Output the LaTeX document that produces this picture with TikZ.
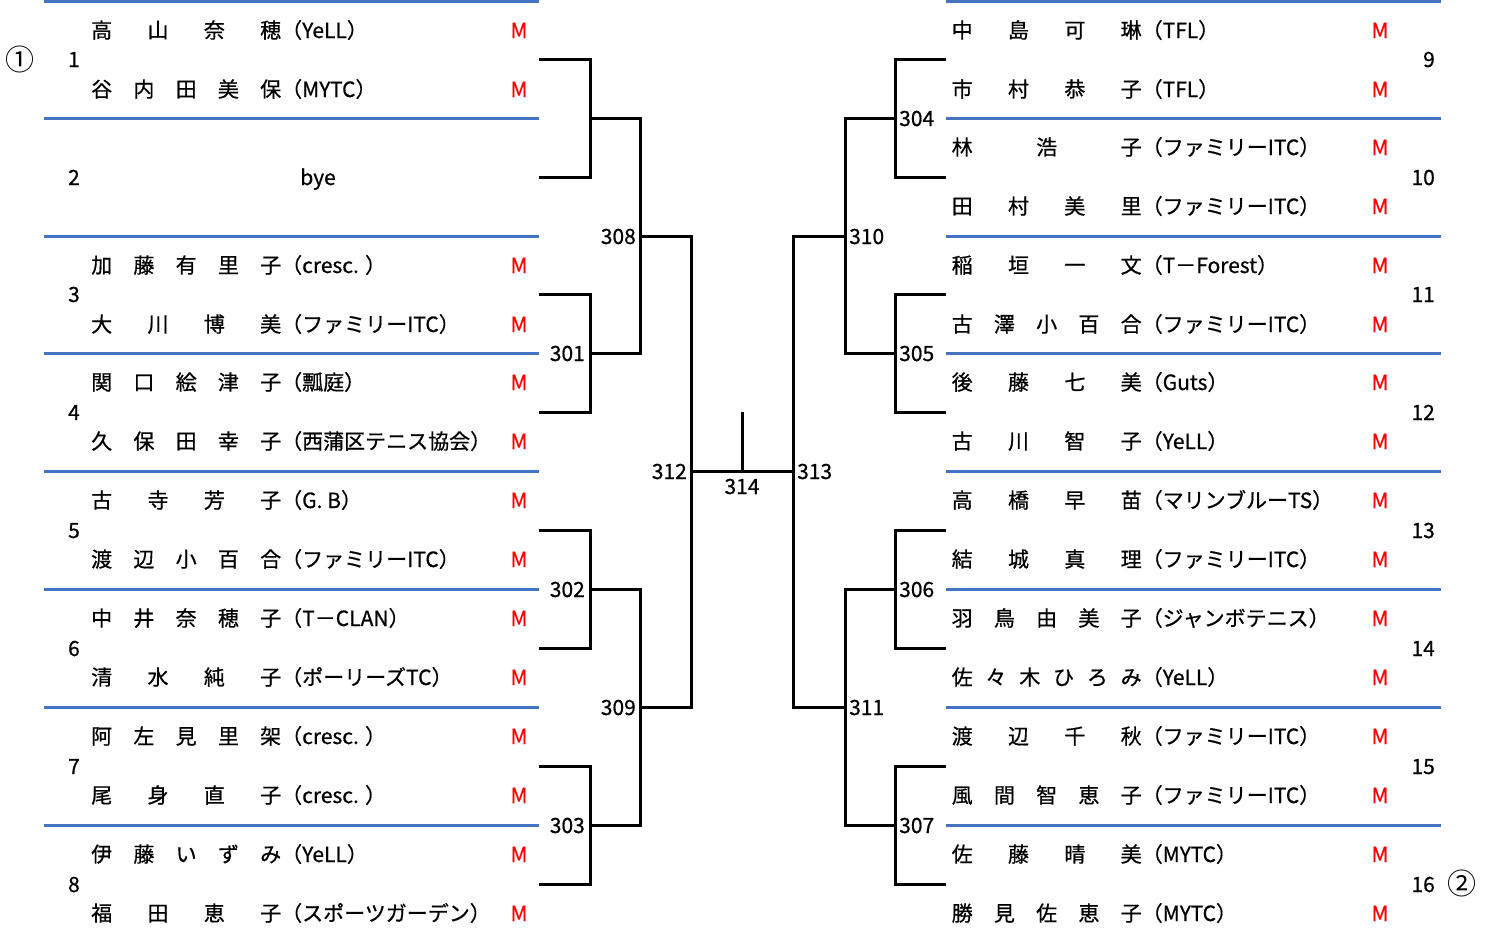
\documentclass[tikz,border=0pt]{standalone}
\usepackage{fontspec}
\setmainfont{Noto Sans CJK JP}[BoldFont={Noto Sans CJK JP}, BoldFeatures={FakeBold=0.7}]
\definecolor{lineblue}{RGB}{68,114,196}
\tikzset{
  txt/.style={inner sep=0pt, anchor=base west, font=\fontsize{21}{25}\selectfont\bfseries},
  mk/.style={inner sep=0pt, anchor=base, text=red, font=\fontsize{21}{25}\selectfont\bfseries},
  numr/.style={inner sep=0pt, anchor=base east, font=\fontsize{21}{25}\selectfont\bfseries},
  numl/.style={inner sep=0pt, anchor=base west, font=\fontsize{21}{25}\selectfont\bfseries},
  numc/.style={inner sep=0pt, anchor=base, font=\fontsize{21}{25}\selectfont\bfseries},
  seed/.style={inner sep=0pt, anchor=center, font=\fontsize{29}{32}\selectfont},
  sepline/.style={draw=lineblue, line width=3pt},
  br/.style={draw=black, line width=3pt},
}
\newcommand\plr[6]{%
  \node[txt] (#1) at (#2,#3) {\hbox to 190pt{#4}#5};
  \node[mk] (#1m) at (#6,#3) {M};
}
\begin{document}
\begin{tikzpicture}[x=1pt,y=-1pt]
\useasboundingbox (0,0) rectangle (1490,940);
% separators
\foreach \yy in {1,118,236,353,471,589,707,825}{
  \draw[sepline] (44,\yy) -- (539,\yy);
  \draw[sepline] (946,\yy) -- (1441,\yy);
}
% left players
\plr{p1a}{91}{38}{高\hfill 山\hfill 奈\hfill 穂}{（YeLL）}{519}
\plr{p1b}{91}{97}{谷\hfill 内\hfill 田\hfill 美\hfill 保}{（MYTC）}{519}
\node[numc] (bye) at (318,185) {bye};
\plr{p3a}{91}{273}{加\hfill 藤\hfill 有\hfill 里\hfill 子}{（cresc. ）}{519}
\plr{p3b}{91}{332}{大\hfill 川\hfill 博\hfill 美}{（ファミリーITC）}{519}
\plr{p4a}{91}{390}{関\hfill 口\hfill 絵\hfill 津\hfill 子}{（瓢庭）}{519}
\plr{p4b}{91}{449}{久\hfill 保\hfill 田\hfill 幸\hfill 子}{（西蒲区テニス協会）}{519}
\plr{p5a}{91}{508}{古\hfill 寺\hfill 芳\hfill 子}{（G. B）}{519}
\plr{p5b}{91}{567}{渡\hfill 辺\hfill 小\hfill 百\hfill 合}{（ファミリーITC）}{519}
\plr{p6a}{91}{626}{中\hfill 井\hfill 奈\hfill 穂\hfill 子}{（T－CLAN）}{519}
\plr{p6b}{91}{685}{清\hfill 水\hfill 純\hfill 子}{（ポーリーズTC）}{519}
\plr{p7a}{91}{744}{阿\hfill 左\hfill 見\hfill 里\hfill 架}{（cresc. ）}{519}
\plr{p7b}{91}{803}{尾\hfill 身\hfill 直\hfill 子}{（cresc. ）}{519}
\plr{p8a}{91}{862}{伊\hfill 藤\hfill い\hfill ず\hfill み}{（YeLL）}{519}
\plr{p8b}{91}{921}{福\hfill 田\hfill 恵\hfill 子}{（スポーツガーデン）}{519}
% right players
\plr{p9a}{951.5}{38}{中\hfill 島\hfill 可\hfill 琳}{（TFL）}{1380}
\plr{p9b}{951.5}{97}{市\hfill 村\hfill 恭\hfill 子}{（TFL）}{1380}
\plr{p10a}{951.5}{155}{林\hfill 浩\hfill 子}{（ファミリーITC）}{1380}
\plr{p10b}{951.5}{214}{田\hfill 村\hfill 美\hfill 里}{（ファミリーITC）}{1380}
\plr{p11a}{951.5}{273}{稲\hfill 垣\hfill 一\hfill 文}{（T－Forest）}{1380}
\plr{p11b}{951.5}{332}{古\hfill 澤\hfill 小\hfill 百\hfill 合}{（ファミリーITC）}{1380}
\plr{p12a}{951.5}{390}{後\hfill 藤\hfill 七\hfill 美}{（Guts）}{1380}
\plr{p12b}{951.5}{449}{古\hfill 川\hfill 智\hfill 子}{（YeLL）}{1380}
\plr{p13a}{951.5}{508}{高\hfill 橋\hfill 早\hfill 苗}{（マリンブルーTS）}{1380}
\plr{p13b}{951.5}{567}{結\hfill 城\hfill 真\hfill 理}{（ファミリーITC）}{1380}
\plr{p14a}{951.5}{626}{羽\hfill 鳥\hfill 由\hfill 美\hfill 子}{（ジャンボテニス）}{1380}
\plr{p14b}{951.5}{685}{佐\hfill 々\hfill 木\hfill ひ\hfill ろ\hfill み}{（YeLL）}{1380}
\plr{p15a}{951.5}{744}{渡\hfill 辺\hfill 千\hfill 秋}{（ファミリーITC）}{1380}
\plr{p15b}{951.5}{803}{風\hfill 間\hfill 智\hfill 恵\hfill 子}{（ファミリーITC）}{1380}
\plr{p16a}{951.5}{862}{佐\hfill 藤\hfill 晴\hfill 美}{（MYTC）}{1380}
\plr{p16b}{951.5}{921}{勝\hfill 見\hfill 佐\hfill 恵\hfill 子}{（MYTC）}{1380}
% entry numbers
\node[numr] (n1) at (80,67) {1};
\node[numr] (n2) at (80,185) {2};
\node[numr] (n3) at (80,302) {3};
\node[numr] (n4) at (80,420) {4};
\node[numr] (n5) at (80,538) {5};
\node[numr] (n6) at (80,656) {6};
\node[numr] (n7) at (80,774) {7};
\node[numr] (n8) at (80,892) {8};
\node[numr] (n9) at (1435,67) {9};
\node[numr] (n10) at (1435,185) {10};
\node[numr] (n11) at (1435,302) {11};
\node[numr] (n12) at (1435,420) {12};
\node[numr] (n13) at (1435,538) {13};
\node[numr] (n14) at (1435,656) {14};
\node[numr] (n15) at (1435,774) {15};
\node[numr] (n16) at (1435,892) {16};
\node[seed] (seed1) at (20,59) {①};
\node[seed] (seed2) at (1462,883) {②};
% bracket coordinates
\coordinate (L1) at (539,59);  \coordinate (L2) at (539,177);
\coordinate (L3) at (539,294); \coordinate (L4) at (539,412);
\coordinate (L5) at (539,530); \coordinate (L6) at (539,648);
\coordinate (L7) at (539,766); \coordinate (L8) at (539,884);
\coordinate (R9) at (946,59);   \coordinate (R10) at (946,177);
\coordinate (R11) at (946,294); \coordinate (R12) at (946,412);
\coordinate (R13) at (946,530); \coordinate (R14) at (946,648);
\coordinate (R15) at (946,766); \coordinate (R16) at (946,884);
\coordinate (m300) at (590,118);
\coordinate (m301) at (590,353);
\coordinate (m302) at (590,589);
\coordinate (m303) at (590,825);
\coordinate (m308) at (640,236);
\coordinate (m309) at (640,707);
\coordinate (m312) at (691,471);
\coordinate (m304) at (895,118);
\coordinate (m305) at (895,353);
\coordinate (m306) at (895,589);
\coordinate (m307) at (895,825);
\coordinate (m310) at (845,236);
\coordinate (m311) at (845,707);
\coordinate (m313) at (793,471);
\coordinate (m314) at (742,471);
\coordinate (top314) at (742,412);
% left bracket
\draw[br] (L1) -| (m300) |- (L2);
\draw[br] (L3) -| (m301) |- (L4);
\draw[br] (L5) -| (m302) |- (L6);
\draw[br] (L7) -| (m303) |- (L8);
\draw[br] (m300) -| (m308) |- (m301);
\draw[br] (m302) -| (m309) |- (m303);
\draw[br] (m308) -| (m312) |- (m309);
% right bracket
\draw[br] (R9) -| (m304) |- (R10);
\draw[br] (R11) -| (m305) |- (R12);
\draw[br] (R13) -| (m306) |- (R14);
\draw[br] (R15) -| (m307) |- (R16);
\draw[br] (m304) -| (m310) |- (m305);
\draw[br] (m306) -| (m311) |- (m307);
\draw[br] (m310) -| (m313) |- (m311);
% final
\draw[br] (m312) -- (m313);
\draw[br] (top314) -- (m314);
% match labels
\node[numr] (t301) at (585,361) {301};
\node[numr] (t302) at (585,597) {302};
\node[numr] (t303) at (585,833) {303};
\node[numr] (t308) at (636,244) {308};
\node[numr] (t309) at (636,715) {309};
\node[numr] (t312) at (687,479) {312};
\node[numc] (t314) at (742,494) {314};
\node[numl] (t304) at (899,126) {304};
\node[numl] (t305) at (899,361) {305};
\node[numl] (t306) at (899,597) {306};
\node[numl] (t307) at (899,833) {307};
\node[numl] (t310) at (849,244) {310};
\node[numl] (t311) at (849,715) {311};
\node[numl] (t313) at (797,479) {313};
\end{tikzpicture}
\end{document}
